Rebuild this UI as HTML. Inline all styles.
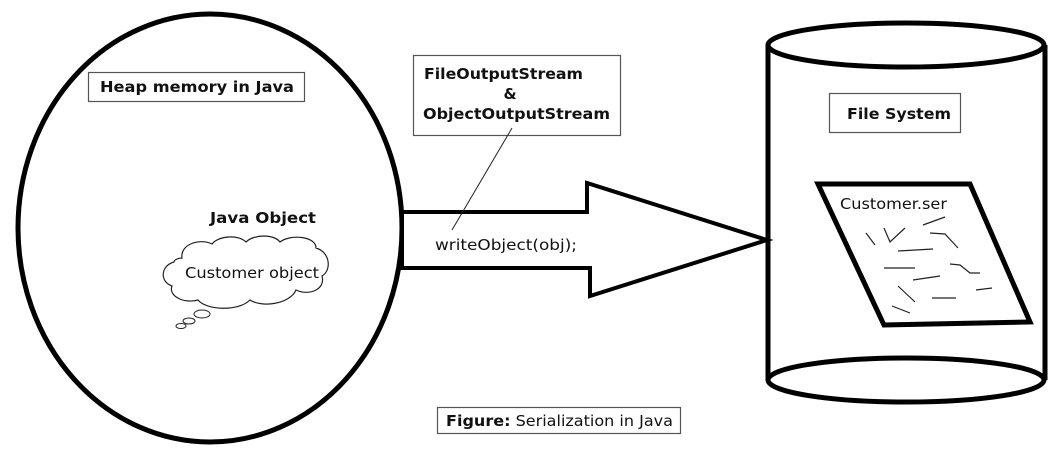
<!DOCTYPE html>
<html><head><style>
body{margin:0;background:#fff;width:1060px;height:453px;overflow:hidden}
svg{display:block}
text{font-family:"DejaVu Sans","Liberation Sans",sans-serif;fill:#111}
.b{font-weight:bold}
</style></head><body>
<svg width="1060" height="453" viewBox="0 0 1060 453">
<ellipse cx="210" cy="228" rx="192" ry="214" fill="none" stroke="#000" stroke-width="5"/>
<rect x="88.5" y="72.5" width="216" height="29" fill="#fff" stroke="#555" stroke-width="1.2"/>
<text x="100" y="92" class="b" font-size="15" textLength="194" lengthAdjust="spacingAndGlyphs">Heap memory in Java</text>
<text x="210" y="223" class="b" font-size="15" textLength="106" lengthAdjust="spacingAndGlyphs">Java Object</text>
<path d="M182,258 C180,244 200,238 212,244 C218,236 238,234 246,242 C254,234 274,234 280,242 C290,234 316,236 316,248 C330,252 332,270 322,276 C326,290 308,296 296,290 C290,304 262,308 250,300 C238,312 206,310 198,300 C184,304 168,296 172,286 C160,282 160,266 174,262 C174,260 178,258 182,258 Z" fill="#fff" stroke="#222" stroke-width="1.2"/>
<ellipse cx="202" cy="314" rx="8" ry="4" fill="#fff" stroke="#222" stroke-width="1"/>
<ellipse cx="189" cy="321" rx="6" ry="3" fill="#fff" stroke="#222" stroke-width="1"/>
<ellipse cx="181" cy="326" rx="5" ry="2.5" fill="#fff" stroke="#222" stroke-width="1"/>
<text x="185" y="278" font-size="15" textLength="134" lengthAdjust="spacingAndGlyphs">Customer object</text>
<polygon points="402,212 587,212 587,183 767,240 590,296 590,268 402,268" fill="#fff" stroke="#000" stroke-width="4"/>
<rect x="413.5" y="55.5" width="207" height="80" fill="#fff" stroke="#555" stroke-width="1.2"/>
<text x="424" y="79" class="b" font-size="15" textLength="159" lengthAdjust="spacingAndGlyphs">FileOutputStream</text>
<text x="510" y="99" class="b" font-size="15" text-anchor="middle">&amp;</text>
<text x="423" y="119" class="b" font-size="15" textLength="187" lengthAdjust="spacingAndGlyphs">ObjectOutputStream</text>
<line x1="512" y1="128" x2="452" y2="230" stroke="#222" stroke-width="1"/>
<text x="435" y="250" font-size="15" textLength="142" lengthAdjust="spacingAndGlyphs">writeObject(obj);</text>
<path d="M768,45 L768,380 M1045,45 L1045,380" stroke="#000" stroke-width="5"/>
<ellipse cx="906" cy="380" rx="138" ry="22" fill="#fff" stroke="#000" stroke-width="5"/>
<ellipse cx="906" cy="45" rx="138" ry="22" fill="#fff" stroke="#000" stroke-width="5"/>
<rect x="829.5" y="93.5" width="131" height="39" fill="#fff" stroke="#555" stroke-width="1.2"/>
<text x="847" y="119" class="b" font-size="15" textLength="104" lengthAdjust="spacingAndGlyphs">File System</text>
<polygon points="818,184 970,184 1030,322 884,325" fill="#fff" stroke="#000" stroke-width="5"/>
<text x="840" y="209" font-size="15" textLength="107" lengthAdjust="spacingAndGlyphs">Customer.ser</text>
<g fill="none" stroke="#222" stroke-width="1.2">
<path d="M866,233 L875,245 M884,228 L890,242 L905,228 M923,225 L945,217 M930,233 L945,234 L958,248 M898,251 L933,249 M884,268 L915,268 M913,280 L940,276 M950,264 L960,265 L970,273 L980,273 M898,286 L915,302 M932,298 L956,298 M976,290 L992,288 M892,306 L910,313"/>
</g>
<rect x="437.5" y="407.5" width="243" height="26" fill="#fff" stroke="#555" stroke-width="1.2"/>
<text x="446" y="426" font-size="15" textLength="227" lengthAdjust="spacingAndGlyphs"><tspan class="b">Figure:</tspan> Serialization in Java</text>
</svg>
</body></html>
